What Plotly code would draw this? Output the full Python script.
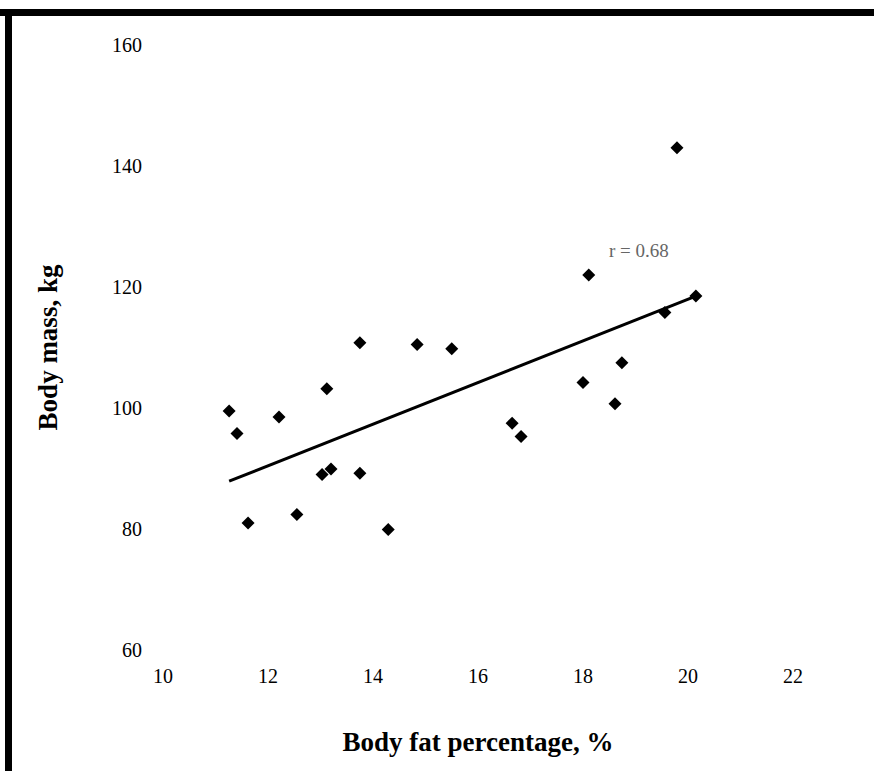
import plotly.graph_objects as go

# Data
body_fat = [11.26, 11.41, 11.62, 12.21, 12.55, 13.03, 13.20, 13.12, 13.75, 13.75, 14.29,
            14.84, 15.50, 16.65, 16.82, 18.00, 18.11, 18.61, 18.74, 19.56, 20.15, 19.79]
body_mass = [99.5, 95.8, 81.0, 98.5, 82.4, 89.0, 89.9, 103.2, 89.2, 110.8, 79.9,
             110.5, 109.8, 97.5, 95.3, 104.2, 122.0, 100.7, 107.5, 115.8, 118.5, 143.0]
trend_x = [11.26, 20.15]
trend_y = [87.9, 118.5]
x_ticks = [10, 12, 14, 16, 18, 20, 22]
y_ticks = [60, 80, 100, 120, 140, 160]
r_label = "r = 0.68"

L, R, T, B = 163, 81, 45, 121
W, H = 874, 771
pw, ph = W - L - R, H - T - B

fig = go.Figure()
fig.add_trace(go.Scatter(x=trend_x, y=trend_y, mode="lines",
                         line=dict(color="black", width=3), showlegend=False,
                         hoverinfo="skip"))
fig.add_trace(go.Scatter(x=body_fat, y=body_mass, mode="markers",
                         marker=dict(symbol="diamond", size=10, color="black"),
                         showlegend=False))

fig.add_annotation(x=18.45, y=126.1, text=r_label, showarrow=False, xanchor="left",
                   font=dict(family="Liberation Serif", size=19, color="#666666"))

axis_font = dict(family="Liberation Serif", size=20, color="black")
title_font = dict(family="Liberation Serif", size=27, color="black")

fig.update_layout(
    width=W, height=H,
    margin=dict(l=L, r=R, t=T, b=B),
    paper_bgcolor="white", plot_bgcolor="white",
    xaxis=dict(range=[10, 22], tickvals=x_ticks, showgrid=False, zeroline=False,
               showline=False, ticks="", tickfont=axis_font, ticklabelstandoff=12,
               title=dict(text="<b>Body fat percentage, %</b>", font=title_font, standoff=46)),
    yaxis=dict(range=[60, 160], tickvals=y_ticks, showgrid=False, zeroline=False,
               showline=False, ticks="", tickfont=axis_font, ticklabelstandoff=20,
               title=dict(text="<b>Body mass, kg</b>", font=title_font, standoff=46)),
    shapes=[
        dict(type="rect", xref="paper", yref="paper", layer="above",
             x0=-L/pw, x1=(W-L)/pw, y0=(H-B-9)/ph, y1=(H-B-16)/ph,
             fillcolor="black", line=dict(width=0)),
        dict(type="rect", xref="paper", yref="paper", layer="above",
             x0=-(L-5)/pw, x1=-(L-12)/pw, y0=-B/ph, y1=(H-B-9)/ph,
             fillcolor="black", line=dict(width=0)),
    ],
)

fig.write_html("out.html")
